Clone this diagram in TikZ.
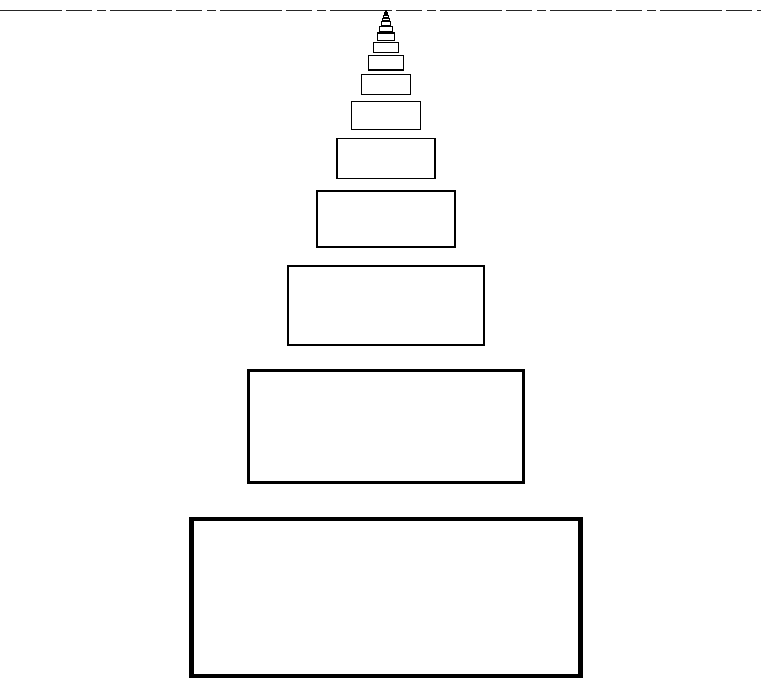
\documentclass[tikz,border=0pt]{standalone}
\begin{document}
\begin{tikzpicture}[x=1pt,y=-1pt]
\tikzset{
  stage/.style={draw=black, fill=none, inner sep=0pt, outer sep=0pt},
  horizon/.style={draw=black!85, line width=0.9pt, dash pattern=on 62pt off 4pt on 26pt off 5pt on 9pt off 4pt}
}
\useasboundingbox (0,0) rectangle (761,679);
\coordinate (hl) at (0,10);
\coordinate (hr) at (761,10);
\draw[horizon] (hl) -- (hr);
\foreach \k in {0,...,18} {
  \pgfmathsetmacro{\d}{666*0.709^\k}
  \pgfmathsetmacro{\yc}{10+0.882*\d}
  \pgfmathsetmacro{\w}{0.584*\d}
  \pgfmathsetmacro{\h}{0.236*\d}
  \pgfmathsetmacro{\lw}{max(1.1,4.2*0.75^\k)}
  \node[stage, line width=\lw pt, minimum width=\w pt, minimum height=\h pt] (r\k) at (386,\yc) {};
}
\end{tikzpicture}
\end{document}
